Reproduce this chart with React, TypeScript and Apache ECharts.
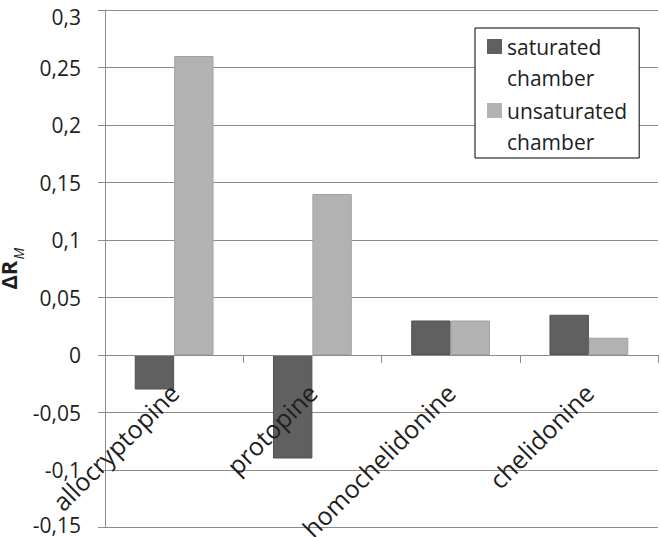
import React, { useEffect, useRef } from "react";
import * as echarts from "echarts";

const categories = ["allocryptopine", "protopine", "homochelidonine", "chelidonine"];
const saturated = [-0.03, -0.09, 0.03, 0.035];
const unsaturated = [0.26, 0.14, 0.03, 0.015];
const seriesNames = ["saturated\nchamber", "unsaturated\nchamber"];
const yMin = -0.15;
const yMax = 0.3;
const yStep = 0.05;

const FONT = "'Open Sans', 'DejaVu Sans', sans-serif";
const GRID = "#8c8c8c";
const TEXT = "#1e1e1e";

const GRID_TOP = 10;
const GRID_BOTTOM = 9.5;
const CHART_H = 537;

export default function App() {
  const ref = useRef<HTMLDivElement>(null);
  useEffect(() => {
    if (!ref.current) return;
    const chart = echarts.init(ref.current, null, { renderer: "svg" });
    const icon = "path://M0,0h0.01M0,8h15v15h-15zM15,62h-0.01";
    const plotH = CHART_H - GRID_TOP - GRID_BOTTOM;
    const zeroFromBottom = (plotH * (0 - yMin)) / (yMax - yMin);
    chart.setOption({
      animation: false,
      backgroundColor: "#ffffff",
      textStyle: { fontFamily: FONT },
      grid: {
        left: 105,
        right: 3,
        top: GRID_TOP,
        bottom: GRID_BOTTOM,
        containLabel: false,
        outerBoundsMode: "none",
      },
      legend: {
        orient: "vertical",
        left: 475,
        top: 28,
        padding: [3, 12, 1, 12],
        itemGap: 2,
        itemWidth: 15,
        itemHeight: 62,
        icon,
        borderColor: "#000",
        borderWidth: 1,
        backgroundColor: "#fff",
        itemStyle: { borderWidth: 0 },
        textStyle: { fontSize: 21, lineHeight: 31, color: TEXT, fontFamily: FONT },
        data: seriesNames,
        selectedMode: false,
      },
      xAxis: {
        type: "category",
        data: categories,
        position: "bottom",
        offset: -zeroFromBottom,
        z: 5,
        axisLine: { onZero: false, lineStyle: { color: GRID, width: 1 } },
        axisTick: { show: true, length: 8, lineStyle: { color: GRID } },
        axisLabel: {
          rotate: 45,
          margin: 33,
          fontSize: 25,
          color: TEXT,
          fontFamily: FONT,
          interval: 0,
          hideOverlap: false,
        },
        splitLine: { show: false },
      },
      yAxis: {
        type: "value",
        min: yMin,
        max: yMax,
        interval: yStep,
        name: "{a|ΔR}{b|M}",
        nameLocation: "middle",
        nameGap: 86,
        nameMoveOverlap: false,
        nameTextStyle: {
          rich: {
            a: { fontSize: 22, fontWeight: "bold", color: TEXT, fontFamily: FONT },
            b: {
              fontSize: 14,
              fontStyle: "italic",
              color: TEXT,
              fontFamily: FONT,
              verticalAlign: "bottom",
              padding: [0, 0, -6, 1],
            },
          },
        },
        axisLine: { show: true, lineStyle: { color: GRID, width: 1 } },
        axisTick: { show: true, length: 7, lineStyle: { color: GRID } },
        axisLabel: {
          margin: 24,
          fontSize: 21,
          color: TEXT,
          fontFamily: FONT,
          showMinLabel: true,
          showMaxLabel: true,
          formatter: (v: number) => {
            const s = String(Number(v.toFixed(2))).replace(".", ",");
            if (Math.abs(v - yMax) < 1e-9) return "{t|" + s + "}";
            if (Math.abs(v - yMin) < 1e-9) return "{b|" + s + "}";
            return s;
          },
          rich: {
            t: { fontSize: 21, color: TEXT, fontFamily: FONT, padding: [14, 0, 0, 0] },
            b: { fontSize: 21, color: TEXT, fontFamily: FONT, padding: [0, 0, 6, 0] },
          },
        },
        splitLine: { show: true, lineStyle: { color: GRID, width: 1 } },
      },
      series: [
        {
          name: seriesNames[0],
          type: "bar",
          data: saturated,
          barGap: "0%",
          barCategoryGap: "43%",
          itemStyle: { color: "#606060", borderColor: "#505050", borderWidth: 1 },
        },
        {
          name: seriesNames[1],
          type: "bar",
          data: unsaturated,
          barGap: "0%",
          barCategoryGap: "43%",
          itemStyle: { color: "#b2b2b2", borderColor: "#a2a2a2", borderWidth: 1 },
        },
      ],
    });
    return () => chart.dispose();
  }, []);
  return (
    <div
      ref={ref}
      style={{ position: "fixed", left: 0, top: 0, width: 661, height: 537 }}
    />
  );
}
